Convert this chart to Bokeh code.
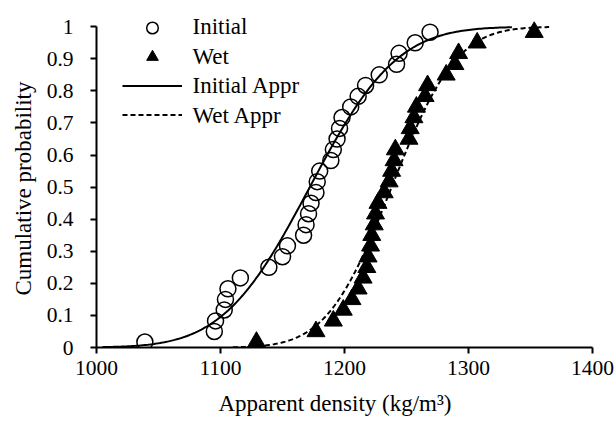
import math
import numpy as np
from bokeh.plotting import figure
from bokeh.models import Range1d, FixedTicker, Legend, LegendItem, Label, Title
from bokeh.embed import file_html
from bokeh.resources import INLINE

# Sorted apparent densities (kg/m3) and their cumulative probabilities
initial_density = [1039, 1095, 1096, 1103, 1104, 1106, 1116, 1139, 1150, 1154,
                   1167, 1169, 1171, 1173, 1177, 1178, 1180, 1189, 1191, 1194,
                   1196, 1198, 1205, 1211, 1217, 1228, 1242, 1244, 1257, 1269]
wet_density = [1129, 1177, 1191, 1199, 1206, 1211, 1215, 1218, 1219, 1221,
               1222, 1224, 1225, 1227, 1232, 1236, 1238, 1240, 1241, 1252,
               1253, 1256, 1258, 1265, 1267, 1282, 1289, 1292, 1307, 1353]
cum_prob = [0.017, 0.05, 0.083, 0.117, 0.15, 0.183, 0.217, 0.25, 0.283, 0.317,
            0.35, 0.383, 0.417, 0.45, 0.483, 0.517, 0.55, 0.583, 0.617, 0.65,
            0.683, 0.717, 0.75, 0.783, 0.817, 0.85, 0.883, 0.917, 0.95, 0.983]

# Fitted normal distributions (mean, standard deviation, drawn span)
initial_fit = (1172.0, 55.0, 1005.0, 1335.0)
wet_fit = (1238.0, 41.0, 1110.0, 1365.0)

x_ticks = [1000, 1100, 1200, 1300, 1400]
y_ticks = [0.0, 0.1, 0.2, 0.3, 0.4, 0.5, 0.6, 0.7, 0.8, 0.9, 1.0]
y_tick_labels = ["0", "0.1", "0.2", "0.3", "0.4", "0.5", "0.6", "0.7", "0.8", "0.9", "1"]
legend_labels = ["Initial", "Wet", "Initial Appr", "Wet Appr"]
x_title = "Apparent density (kg/m³)"
y_title = "Cumulative probability"


def normal_cdf_curve(mean, sd, lo, hi, n=200):
    xs = np.linspace(lo, hi, n)
    ys = [0.5 * (1.0 + math.erf((x - mean) / (sd * math.sqrt(2.0)))) for x in xs]
    return xs, ys


FONT = "Liberation Serif"
TICK_FS = "21.5px"
LABEL_FS = "23px"

p = figure(width=616, height=427, output_backend="svg", toolbar_location=None,
           x_range=Range1d(1000, 1400), y_range=Range1d(0, 1.06),
           min_border_left=96, min_border_right=24,
           min_border_top=7, min_border_bottom=78)
p.background_fill_color = "white"
p.border_fill_color = "white"
p.outline_line_color = None
p.xgrid.visible = False
p.ygrid.visible = False

for ax in (p.xaxis[0], p.yaxis[0]):
    ax.axis_line_width = 2
    ax.axis_line_color = "black"
    ax.major_tick_line_width = 2
    ax.major_tick_line_color = "black"
    ax.major_tick_in = 0
    ax.major_tick_out = 6
    ax.minor_tick_line_color = None
    ax.major_label_text_font = FONT
    ax.major_label_text_font_size = TICK_FS
    ax.major_label_text_color = "black"

p.xaxis.ticker = FixedTicker(ticks=x_ticks)
p.xaxis.major_label_standoff = 7

p.yaxis.ticker = FixedTicker(ticks=y_ticks)
p.yaxis.major_label_overrides = {t: s for t, s in zip(y_ticks, y_tick_labels)}
p.yaxis.major_label_standoff = 17
p.yaxis.bounds = (0, 1)

# axis titles, placed as side titles so they can be shifted along the axis
p.add_layout(Title(text=x_title, align="left", offset=122, standoff=23,
                   text_font=FONT, text_font_size=LABEL_FS,
                   text_font_style="normal", text_color="black"), "below")
p.add_layout(Title(text=y_title, align="left", offset=52, standoff=16,
                   text_font=FONT, text_font_size=LABEL_FS,
                   text_font_style="normal", text_color="black"), "left")

xi, yi = normal_cdf_curve(*initial_fit)
xw, yw = normal_cdf_curve(*wet_fit)

r_init_line = p.line(xi, yi, line_color="black", line_width=2)
r_wet_line = p.line(xw, yw, line_color="black", line_width=2, line_dash="5 3")
r_init = p.scatter(initial_density, cum_prob, marker="circle", size=16,
                   fill_alpha=0, line_color="black", line_width=1.5)
r_wet = p.scatter(wet_density, cum_prob, marker="triangle", size=18,
                  fill_color="black", line_color="black", line_width=1)

# legend samples (text drawn separately so it sits on the sample's baseline)
legend = Legend(items=[
    LegendItem(label=lab, renderers=[r])
    for lab, r in zip(legend_labels, [r_init, r_wet, r_init_line, r_wet_line])
], location=(26, 218))
legend.glyph_width = 60
legend.glyph_height = 29
legend.label_height = 29
legend.label_width = 10
legend.spacing = 0
legend.padding = 0
legend.margin = 0
legend.label_standoff = 10
legend.label_text_font = FONT
legend.label_text_font_size = "1px"
legend.label_text_alpha = 0
legend.background_fill_alpha = 0
legend.border_line_alpha = 0
p.add_layout(legend)

row_step = 29.5
for i, lab in enumerate(legend_labels):
    p.add_layout(Label(x=1000, y=1.0, x_offset=96, y_offset=-i * row_step, text=lab,
                       text_align="left", text_baseline="alphabetic",
                       text_font=FONT, text_font_size=LABEL_FS, text_color="black"))

open("out.html", "w").write(file_html(p, INLINE))
